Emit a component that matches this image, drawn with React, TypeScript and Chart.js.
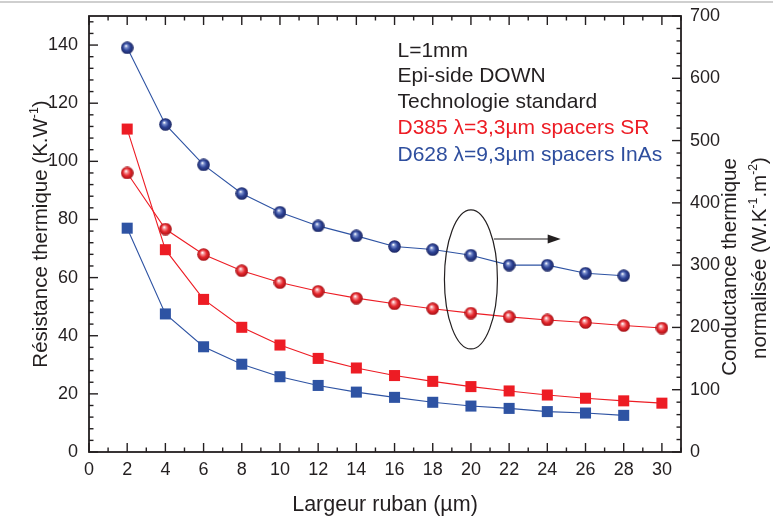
import React, { useEffect, useRef } from "react";
import { Chart, registerables } from "chart.js";
Chart.register(...registerables);

// ---- Data ----
const widthsLong = [2, 4, 6, 8, 10, 12, 14, 16, 18, 20, 22, 24, 26, 28, 30];
const widthsShort = [2, 4, 6, 8, 10, 12, 14, 16, 18, 20, 22, 24, 26, 28];
// Résistance thermique (K.W-1), left axis
const resD385 = [111.1, 69.6, 52.5, 42.9, 36.8, 32.2, 28.9, 26.3, 24.3, 22.5, 21.0, 19.6, 18.5, 17.6, 16.8];
const resD628 = [77.0, 47.5, 36.2, 30.2, 25.9, 22.9, 20.6, 18.8, 17.1, 15.8, 15.0, 13.9, 13.4, 12.6];
// Conductance thermique normalisée (W.K-1.m-2), right axis
const condD385 = [448, 358, 317, 291, 272, 258, 247, 238, 230, 223, 217, 212, 208, 203, 199];
const condD628 = [649, 526, 461, 415, 385, 363, 347, 330, 325, 316, 300, 300, 287, 283];

const xTickValues = [0, 2, 4, 6, 8, 10, 12, 14, 16, 18, 20, 22, 24, 26, 28, 30];
const leftTickValues = [0, 20, 40, 60, 80, 100, 120, 140];
const rightTickValues = [0, 100, 200, 300, 400, 500, 600, 700];

const annotationLines = [
  { text: "L=1mm", color: "#231F20" },
  { text: "Epi-side DOWN", color: "#231F20" },
  { text: "Technologie standard", color: "#231F20" },
  { text: "D385 \u03BB=3,3\u00B5m spacers SR", color: "#ED1C24" },
  { text: "D628 \u03BB=9,3\u00B5m spacers InAs", color: "#2E4E9E" },
];
// ellipse (data coords: x, right-axis y) and arrow
const ellipseCenter = { x: 20, y: 277 };
const arrowFrom = { x: 21.2, y: 342 };
const arrowTo = { x: 24.7, y: 342 };

const FONT = '"Liberation Sans", Arial, Helvetica, sans-serif';
const INK = "#231F20";
const RED = "#ED1C24";
const BLUE = "#2E53A3";

function sphere(base: string, light: string, dark: string, size: number) {
  const c = document.createElement("canvas");
  c.width = size;
  c.height = size;
  const g = c.getContext("2d")!;
  const r = size / 2;
  const grad = g.createRadialGradient(r * 0.8, r * 0.7, 0.3, r, r, r);
  grad.addColorStop(0, "#ffffff");
  grad.addColorStop(0.2, light);
  grad.addColorStop(0.55, base);
  grad.addColorStop(1, dark);
  g.fillStyle = grad;
  g.beginPath();
  g.arc(r, r, r - 0.2, 0, Math.PI * 2);
  g.fill();
  return c;
}

type Part = { t: string; sup?: boolean };
function drawRich(ctx: CanvasRenderingContext2D, parts: Part[], x: number, y: number, rot: number, size: number) {
  ctx.save();
  ctx.translate(x, y);
  ctx.rotate(rot);
  ctx.fillStyle = INK;
  ctx.textBaseline = "alphabetic";
  ctx.textAlign = "left";
  const f = (s: number) => `${s}px ${FONT}`;
  let total = 0;
  const ws = parts.map((p) => {
    ctx.font = f(p.sup ? size * 0.6 : size);
    const w = ctx.measureText(p.t).width;
    total += w;
    return w;
  });
  let cx = -total / 2;
  parts.forEach((p, i) => {
    ctx.font = f(p.sup ? size * 0.6 : size);
    ctx.fillText(p.t, cx, p.sup ? -size * 0.42 : 0);
    cx += ws[i];
  });
  ctx.restore();
}

const decorPlugin = {
  id: "decor",
  afterDatasetsDraw(chart: any) {
    const { ctx, chartArea, scales } = chart;
    const { left, right, top, bottom } = chartArea;
    const x = scales.x, y = scales.y, y2 = scales.y2;
    ctx.save();
    // screenshot top border
    ctx.fillStyle = "#cfcfcf";
    ctx.fillRect(0, 1, chart.width, 2);

    // frame
    ctx.strokeStyle = INK;
    ctx.lineWidth = 1.8;
    ctx.strokeRect(left, top, right - left, bottom - top);

    const seg = (x1: number, y1: number, x2: number, y2_: number) => {
      ctx.beginPath();
      ctx.moveTo(x1, y1);
      ctx.lineTo(x2, y2_);
      ctx.stroke();
    };
    ctx.lineWidth = 1.4;
    // x ticks (bottom & top), inward
    for (let v = 0; v <= x.max; v += 1) {
      const px = x.getPixelForValue(v);
      const L = v % 2 === 0 ? 9 : 4.5;
      seg(px, bottom, px, bottom - L);
      seg(px, top, px, top + L);
    }
    // left ticks
    for (let v = 0; v <= y.max; v += 4) {
      const py = y.getPixelForValue(v);
      const L = v % 20 === 0 ? 9 : 4.5;
      seg(left, py, left + L, py);
    }
    // right ticks
    for (let v = 0; v <= y2.max; v += 20) {
      const py = y2.getPixelForValue(v);
      const L = v % 100 === 0 ? 9 : 4.5;
      seg(right, py, right - L, py);
    }

    // ellipse
    ctx.lineWidth = 1.2;
    ctx.strokeStyle = INK;
    const ex = x.getPixelForValue(ellipseCenter.x);
    const ey = y2.getPixelForValue(ellipseCenter.y);
    ctx.beginPath();
    ctx.ellipse(ex, ey, 26.5, 69.5, 0, 0, Math.PI * 2);
    ctx.stroke();
    // arrow
    const ax1 = x.getPixelForValue(arrowFrom.x);
    const ax2 = x.getPixelForValue(arrowTo.x);
    const ay = y2.getPixelForValue(arrowFrom.y);
    seg(ax1, ay, ax2 - 12, ay);
    ctx.fillStyle = INK;
    ctx.beginPath();
    ctx.moveTo(ax2, ay);
    ctx.lineTo(ax2 - 13, ay - 4.5);
    ctx.lineTo(ax2 - 13, ay + 4.5);
    ctx.closePath();
    ctx.fill();

    // annotation text
    ctx.font = `21px ${FONT}`;
    ctx.textAlign = "left";
    ctx.textBaseline = "alphabetic";
    const baselines = [56.7, 81.5, 107.8, 134.3, 161];
    annotationLines.forEach((l, i) => {
      ctx.fillStyle = l.color;
      ctx.fillText(l.text, 397.5, baselines[i]);
    });

    // axis titles
    drawRich(ctx, [{ t: "R\u00E9sistance thermique (K.W" }, { t: "-1", sup: true }, { t: ")" }], 47, 234, -Math.PI / 2, 20.5);
    drawRich(ctx, [{ t: "Conductance thermique" }], 736, 267, -Math.PI / 2, 20.5);
    drawRich(
      ctx,
      [{ t: "normalis\u00E9e (W.K" }, { t: "-1", sup: true }, { t: ".m" }, { t: "-2", sup: true }, { t: ")" }],
      766,
      258,
      -Math.PI / 2,
      20.5
    );
    drawRich(ctx, [{ t: "Largeur ruban (\u00B5m)" }], 385, 510.5, 0, 21.5);
    ctx.restore();
  },
};

function zeroPad(s: any) {
  s.paddingTop = 0;
  s.paddingBottom = 0;
  s.paddingLeft = 0;
  s.paddingRight = 0;
}

export default function App() {
  const ref = useRef<HTMLCanvasElement | null>(null);
  useEffect(() => {
    if (!ref.current) return;
    const blueSphere = sphere("#2D4396", "#7F93D0", "#1B2560", 13);
    const redSphere = sphere("#E6262C", "#F59A9C", "#9E1015", 13);
    const tickFont = { family: FONT, size: 18 };
    const chart = new Chart(ref.current, {
      type: "scatter",
      data: {
        datasets: [
          {
            label: "R D385",
            data: widthsLong.map((w, i) => ({ x: w, y: resD385[i] })),
            yAxisID: "y",
            showLine: true,
            borderColor: RED,
            borderWidth: 1.1,
            pointStyle: "rect",
            pointRadius: 7.8,
            pointBackgroundColor: RED,
            pointBorderWidth: 0,
          },
          {
            label: "R D628",
            data: widthsShort.map((w, i) => ({ x: w, y: resD628[i] })),
            yAxisID: "y",
            showLine: true,
            borderColor: BLUE,
            borderWidth: 1.1,
            pointStyle: "rect",
            pointRadius: 7.8,
            pointBackgroundColor: BLUE,
            pointBorderWidth: 0,
          },
          {
            label: "G D385",
            data: widthsLong.map((w, i) => ({ x: w, y: condD385[i] })),
            yAxisID: "y2",
            showLine: true,
            borderColor: RED,
            borderWidth: 1.1,
            pointStyle: redSphere as any,
            pointRadius: 6.5,
          },
          {
            label: "G D628",
            data: widthsShort.map((w, i) => ({ x: w, y: condD628[i] })),
            yAxisID: "y2",
            showLine: true,
            borderColor: BLUE,
            borderWidth: 1.1,
            pointStyle: blueSphere as any,
            pointRadius: 6.5,
          },
        ],
      },
      options: {
        animation: false,
        responsive: true,
        maintainAspectRatio: false,
        layout: { padding: { top: 16, left: 0, right: 0, bottom: 0 } },
        plugins: { legend: { display: false }, tooltip: { enabled: false } },
        scales: {
          x: {
            type: "linear",
            min: 0,
            max: 31,
            grid: { display: false, drawTicks: false },
            border: { display: false },
            afterBuildTicks: (s: any) => {
              s.ticks = xTickValues.map((v) => ({ value: v }));
            },
            afterFit: (s: any) => {
              s.height = 68;
              zeroPad(s);
            },
            ticks: { font: tickFont, color: INK, padding: 7, autoSkip: false, maxRotation: 0, includeBounds: false },
          },
          y: {
            type: "linear",
            position: "left",
            min: 0,
            max: 150,
            grid: { display: false, drawTicks: false },
            border: { display: false },
            afterBuildTicks: (s: any) => {
              s.ticks = leftTickValues.map((v) => ({ value: v }));
            },
            afterFit: (s: any) => {
              s.width = 89;
              zeroPad(s);
            },
            ticks: { font: tickFont, color: INK, padding: 11 },
          },
          y2: {
            type: "linear",
            position: "right",
            min: 0,
            max: 700,
            grid: { display: false, drawTicks: false },
            border: { display: false },
            afterBuildTicks: (s: any) => {
              s.ticks = rightTickValues.map((v) => ({ value: v }));
            },
            afterFit: (s: any) => {
              s.width = 92;
              zeroPad(s);
            },
            ticks: { font: tickFont, color: INK, padding: 9 },
          },
        },
      },
      plugins: [decorPlugin],
    } as any);
    return () => chart.destroy();
  }, []);
  return (
    <div style={{ position: "absolute", left: 0, top: 0, width: 773, height: 520, background: "#fff" }}>
      <canvas ref={ref} />
    </div>
  );
}
